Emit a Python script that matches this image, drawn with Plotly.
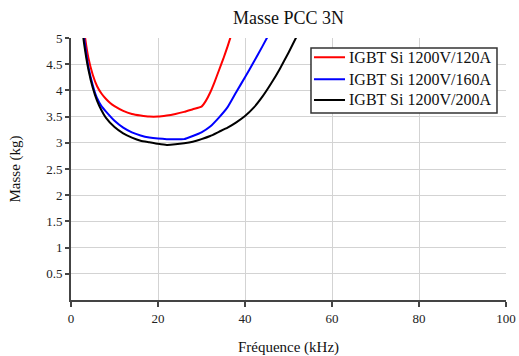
import plotly.graph_objects as go

# Data (frequency in kHz, mass in kg)
red_x = [2, 3, 4, 5, 6, 7, 8, 9, 10, 12, 14, 16, 18, 20, 22, 24, 26, 28, 30, 31, 32, 33, 34, 35, 36, 37]
red_y = [5.9, 5.15, 4.62, 4.3, 4.08, 3.94, 3.84, 3.76, 3.7, 3.61, 3.55, 3.52, 3.5, 3.5, 3.52, 3.55, 3.59, 3.64,
         3.69, 3.8, 3.96, 4.16, 4.38, 4.6, 4.84, 5.1]

blue_x = [2, 3, 4, 5, 6, 7, 8, 10, 12, 14, 16, 18, 20, 22, 24, 26, 28, 30, 32, 34, 36, 38, 40, 42, 44, 46]
blue_y = [5.7, 5.0, 4.45, 4.1, 3.85, 3.7, 3.6, 3.42, 3.29, 3.2, 3.14, 3.1, 3.08, 3.07, 3.07, 3.07, 3.13, 3.2,
          3.31, 3.48, 3.68, 3.97, 4.25, 4.54, 4.84, 5.15]

black_x = [2, 3, 4, 5, 6, 7, 8, 10, 12, 14, 16, 18, 20, 22, 24, 26, 28, 30, 32, 34, 36, 38, 40, 42, 44, 46, 48,
           50, 52, 54]
black_y = [5.6, 4.9, 4.4, 4.05, 3.8, 3.62, 3.48, 3.3, 3.18, 3.1, 3.04, 3.01, 2.98, 2.96, 2.97, 2.99, 3.02, 3.07,
           3.13, 3.21, 3.29, 3.39, 3.51, 3.67, 3.88, 4.13, 4.41, 4.72, 5.05, 5.4]

series_names = ["IGBT Si 1200V/120A", "IGBT Si 1200V/160A", "IGBT Si 1200V/200A"]
series_colors = ["#ff0000", "#0000ff", "#000000"]

x_ticks = [0, 20, 40, 60, 80, 100]
y_ticks = [0.5, 1, 1.5, 2, 2.5, 3, 3.5, 4, 4.5, 5]
y_tick_labels = ["0.5", "1", "1.5", "2", "2.5", "3", "3.5", "4", "4.5", "5"]

FONT = "Liberation Serif"

fig = go.Figure()
for xs, ys, name, col in zip([red_x, blue_x, black_x], [red_y, blue_y, black_y], series_names, series_colors):
    fig.add_trace(go.Scatter(x=xs, y=ys, mode="lines", name=name, showlegend=False,
                             line=dict(color=col, width=2, shape="spline", smoothing=0.4)))

# Legend box drawn in plot-area (paper) coordinates
LEG_X0, LEG_X1, LEG_Y0, LEG_Y1 = 0.5517, 0.9793, 0.7137, 0.9618
row_y = [0.9263, 0.8424, 0.7634]
fig.add_shape(type="rect", xref="paper", yref="paper", x0=LEG_X0, x1=LEG_X1, y0=LEG_Y0, y1=LEG_Y1,
              fillcolor="white", line=dict(color="#333", width=1.5), layer="above")
for name, col, ry in zip(series_names, series_colors, row_y):
    fig.add_shape(type="line", xref="paper", yref="paper", x0=0.5586, x1=0.6299, y0=ry, y1=ry,
                  line=dict(color=col, width=2), layer="above")
    fig.add_annotation(text=name, xref="paper", yref="paper", x=0.6345, y=ry, xanchor="left",
                       yanchor="middle", showarrow=False,
                       font=dict(family=FONT, size=16, color="#111"))

fig.update_layout(
    width=519, height=356,
    margin=dict(l=71, r=13, t=38, b=56, autoexpand=False),
    paper_bgcolor="white", plot_bgcolor="white",
    font=dict(family=FONT, size=13, color="#222"),
    title=dict(text="Masse PCC 3N", x=(71 + 506) / 2 / 519, xanchor="center", y=0.949, yanchor="middle",
               font=dict(family=FONT, size=18, color="#111")),
    showlegend=False,
)

fig.update_xaxes(
    range=[0, 100], tickvals=x_ticks, ticktext=[str(v) for v in x_ticks],
    showgrid=True, gridcolor="#d3d3d3", gridwidth=1.3,
    showline=True, linecolor="#444", linewidth=2,
    ticks="outside", ticklen=5, tickcolor="#444", tickwidth=1.5,
    zeroline=False, automargin=False,
    title=dict(text="Fréquence (kHz)", font=dict(family=FONT, size=15, color="#111"), standoff=18),
    tickfont=dict(family=FONT, size=13, color="#222"),
)
fig.update_yaxes(
    range=[0, 5], tickvals=y_ticks, ticktext=y_tick_labels,
    showgrid=True, gridcolor="#d3d3d3", gridwidth=1.3,
    showline=True, linecolor="#444", linewidth=2,
    ticks="outside", ticklen=4, tickcolor="#444", tickwidth=1.5,
    zeroline=False, automargin=False,
    title=dict(text="Masse (kg)", font=dict(family=FONT, size=15, color="#111"), standoff=22),
    tickfont=dict(family=FONT, size=13, color="#222"),
)

fig.write_html("out.html", config={"displayModeBar": False},
               post_script="document.body.style.margin='0';document.body.style.overflow='hidden';")
